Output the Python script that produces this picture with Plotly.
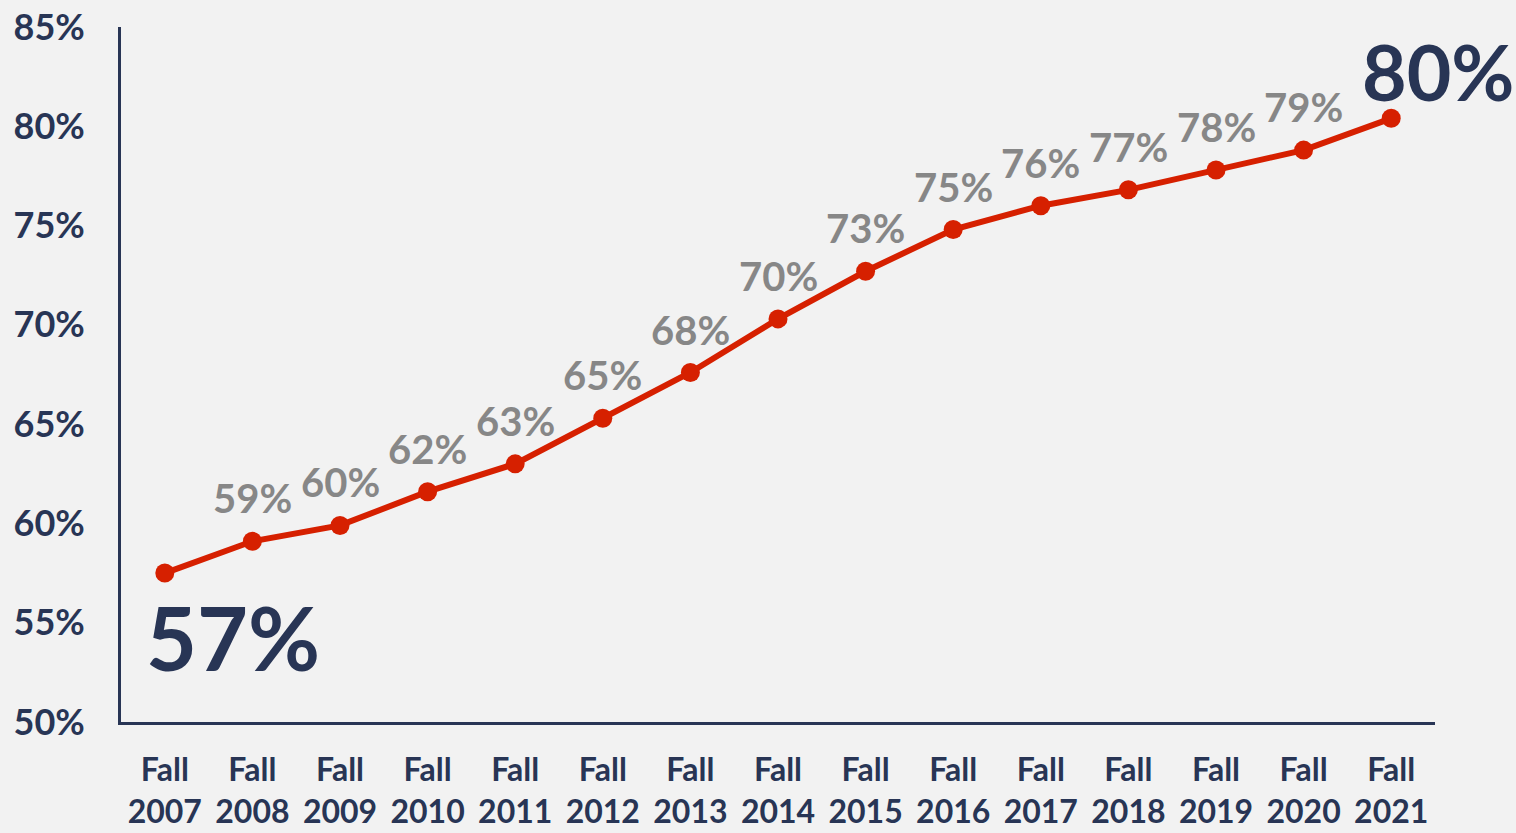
import plotly.graph_objects as go

years = ["2007", "2008", "2009", "2010", "2011", "2012", "2013", "2014",
         "2015", "2016", "2017", "2018", "2019", "2020", "2021"]
categories = ["Fall<br>" + y for y in years]
values = [57.5, 59.1, 59.9, 61.6, 63.0, 65.3, 67.6, 70.3, 72.7, 74.8, 76.0, 76.8, 77.8, 78.8, 80.4]
labels = ["57%", "59%", "60%", "62%", "63%", "65%", "68%", "70%", "73%", "75%",
          "76%", "77%", "78%", "79%", "80%"]
y_ticks = [50, 55, 60, 65, 70, 75, 80, 85]

NAVY = "#283555"
RED = "#d62000"
GRAY = "#878787"
BG = "#f2f2f2"

fig = go.Figure()
fig.add_trace(go.Scatter(
    x=categories, y=values, mode="lines+markers",
    line=dict(color=RED, width=6),
    marker=dict(color=RED, size=19),
    hoverinfo="skip", showlegend=False,
))

for i, (c, v, t) in enumerate(zip(categories, values, labels)):
    if i == 0:
        fig.add_annotation(x=c, y=v, text=t, showarrow=False, xshift=68, yshift=-64,
                           font=dict(family="Lato", size=88, color=NAVY, weight="bold"))
    elif i == len(values) - 1:
        fig.add_annotation(x=c, y=v, text=t, showarrow=False, xshift=47, yshift=47,
                           font=dict(family="Lato", size=77, color=NAVY, weight="bold"))
    else:
        fig.add_annotation(x=c, y=v, text=t, showarrow=False, yshift=43,
                           font=dict(family="Lato", size=40, color=GRAY, weight="bold"))

fig.update_layout(
    width=1516, height=833,
    paper_bgcolor=BG, plot_bgcolor=BG,
    margin=dict(l=121, r=81, t=27, b=111),
    font=dict(family="Lato", color=NAVY),
)
fig.update_xaxes(
    range=[-0.5, 14.5], showgrid=False, zeroline=False, automargin=False,
    showline=True, linecolor=NAVY, linewidth=3,
    ticks="", ticklabelstandoff=18,
    tickfont=dict(family="Lato", size=32, color=NAVY, weight="bold"),
)
fig.update_yaxes(
    range=[50, 85], tickvals=y_ticks, ticktext=[f"{v}%" for v in y_ticks],
    showgrid=False, zeroline=False, automargin=False,
    showline=True, linecolor=NAVY, linewidth=3,
    ticks="", ticklabelstandoff=26,
    tickfont=dict(family="Lato", size=36, color=NAVY, weight="bold"),
)

fig.write_html("out.html", config={"displayModeBar": False},
               post_script="document.body.style.margin='0';document.body.style.overflow='hidden';")
